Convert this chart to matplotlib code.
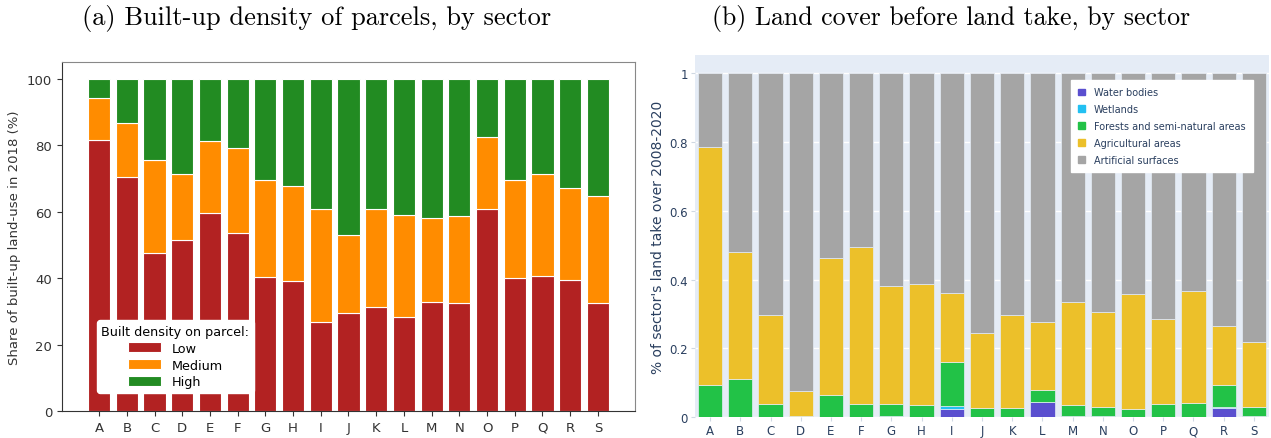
import numpy as np
import matplotlib.pyplot as plt
from matplotlib.patches import Patch

sectors = list('ABCDEFGHIJKLMNOPQRS')

# (a) built-up density, cumulative tops (%)
low = [81.5, 70.5, 47.6, 51.5, 59.7, 53.5, 40.2, 39.1, 26.7, 29.4,
       31.4, 28.2, 32.9, 32.5, 60.9, 39.9, 40.6, 39.4, 32.5]
low_med = [94.3, 86.7, 75.5, 71.3, 81.3, 79.0, 69.4, 67.8, 60.9, 53.1,
           60.9, 59.0, 58.2, 58.6, 82.5, 69.4, 71.3, 67.1, 64.7]

# (b) land cover shares (fractions)
water = [0, 0, 0.002, 0, 0, 0, 0, 0, 0.024, 0,
         0, 0.043, 0.003, 0, 0, 0, 0, 0.028, 0.004]
wetlands = [0, 0, 0, 0, 0, 0, 0.003, 0, 0.008, 0,
            0, 0, 0, 0.004, 0, 0, 0, 0.002, 0]
forests = [0.093, 0.110, 0.038, 0.005, 0.065, 0.040, 0.036, 0.035, 0.130, 0.028,
           0.028, 0.036, 0.034, 0.027, 0.025, 0.039, 0.042, 0.063, 0.027]
agri = [0.692, 0.370, 0.258, 0.072, 0.398, 0.455, 0.342, 0.353, 0.200, 0.216,
        0.270, 0.199, 0.299, 0.275, 0.334, 0.247, 0.325, 0.172, 0.188]

low = np.array(low)
medium = np.array(low_med) - low
high = 100 - np.array(low_med)

water = np.array(water)
wetlands = np.array(wetlands)
forests = np.array(forests)
agri = np.array(agri)
artificial = 1 - water - wetlands - forests - agri

fig = plt.figure(figsize=(12.71, 4.39), dpi=100)

# ---------- (a) ----------
ax1 = fig.add_axes([62/1271, 1 - 412/439, (635-62)/1271, (412-63)/439])
x = np.arange(len(sectors))
ax1.bar(x, low, color='firebrick', edgecolor='white', linewidth=0.8, label='Low')
ax1.bar(x, medium, bottom=low, color='darkorange', edgecolor='white', linewidth=0.8, label='Medium')
ax1.bar(x, high, bottom=low + medium, color='forestgreen', edgecolor='white', linewidth=0.8, label='High')
ax1.set_xticks(x)
ax1.set_xticklabels(sectors)
ax1.set_yticks([0, 20, 40, 60, 80, 100])
ax1.tick_params(labelsize=9.5, colors='#333333')
ax1.set_ylabel('Share of built-up land-use in 2018 (%)', fontsize=9.5, color='#333333')
for s in ['top', 'right']:
    ax1.spines[s].set_color('#888888')
for s in ['left', 'bottom']:
    ax1.spines[s].set_color('#333333')
leg = ax1.legend(title='Built density on parcel:', loc='lower left',
                 bbox_to_anchor=(0.061, 0.052), fontsize=9.2, title_fontsize=9.2,
                 handlelength=2.6, handleheight=0.8, framealpha=1, edgecolor='white',
                 fancybox=True, borderpad=0.35, labelspacing=0.3, borderaxespad=0)

# ---------- (b) ----------
ax2 = fig.add_axes([695/1271, 1 - 418.3/439, (1269-695)/1271, (418.3-55.7)/439])
ax2.set_facecolor('#E5ECF6')
kw = dict(width=0.8, edgecolor='#E5ECF6', linewidth=0.5)
b = np.zeros(len(sectors))
series = [(water, '#5a4fcf', 'Water bodies'),
          (wetlands, '#22c0f2', 'Wetlands'),
          (forests, '#22c247', 'Forests and semi-natural areas'),
          (agri, '#ecc02a', 'Agricultural areas'),
          (artificial, '#a5a5a5', 'Artificial surfaces')]
for vals, col, lab in series:
    ax2.bar(x, vals, bottom=b, color=col, label=lab, zorder=2, **kw)
    b = b + vals
ax2.set_xlim(-0.5, 18.5)
ax2.set_ylim(0, 1.053)
ax2.set_yticks([0, 0.2, 0.4, 0.6, 0.8, 1])
ax2.set_yticklabels(['0', '0.2', '0.4', '0.6', '0.8', '1'])
ax2.set_xticks(x)
ax2.set_xticklabels(sectors)
ax2.grid(axis='y', color='white', linewidth=1, zorder=0)
ax2.set_axisbelow(True)
for s in ax2.spines.values():
    s.set_visible(False)
ax2.tick_params(labelsize=8.5, colors='#2a3f5f', length=3, width=0.8, pad=2)
ax2.tick_params(color='#cfd8e3')
ax2.set_ylabel("% of sector's land take over 2008-2020", fontsize=10, color='#2a3f5f', labelpad=3)
hs = [Patch(color=c) for _, c, _ in series]
ax2.legend(hs, [l for _, _, l in series], loc='upper right', bbox_to_anchor=(0.972, 0.930),
           fontsize=7.0, handlelength=0.7, handleheight=0.7, fancybox=False,
           framealpha=1, edgecolor='white', labelcolor='#2a3f5f', borderaxespad=0,
           borderpad=0.75, labelspacing=0.7, handletextpad=0.9)

# titles
fig.text(0.249, 0.958, '(a) Built-up density of parcels, by sector', family='cmr10',
         fontsize=19, ha='center', va='center')
fig.text(0.748, 0.958, '(b) Land cover before land take, by sector', family='cmr10',
         fontsize=18.6, ha='center', va='center')

fig.savefig('out.png', dpi=100)
